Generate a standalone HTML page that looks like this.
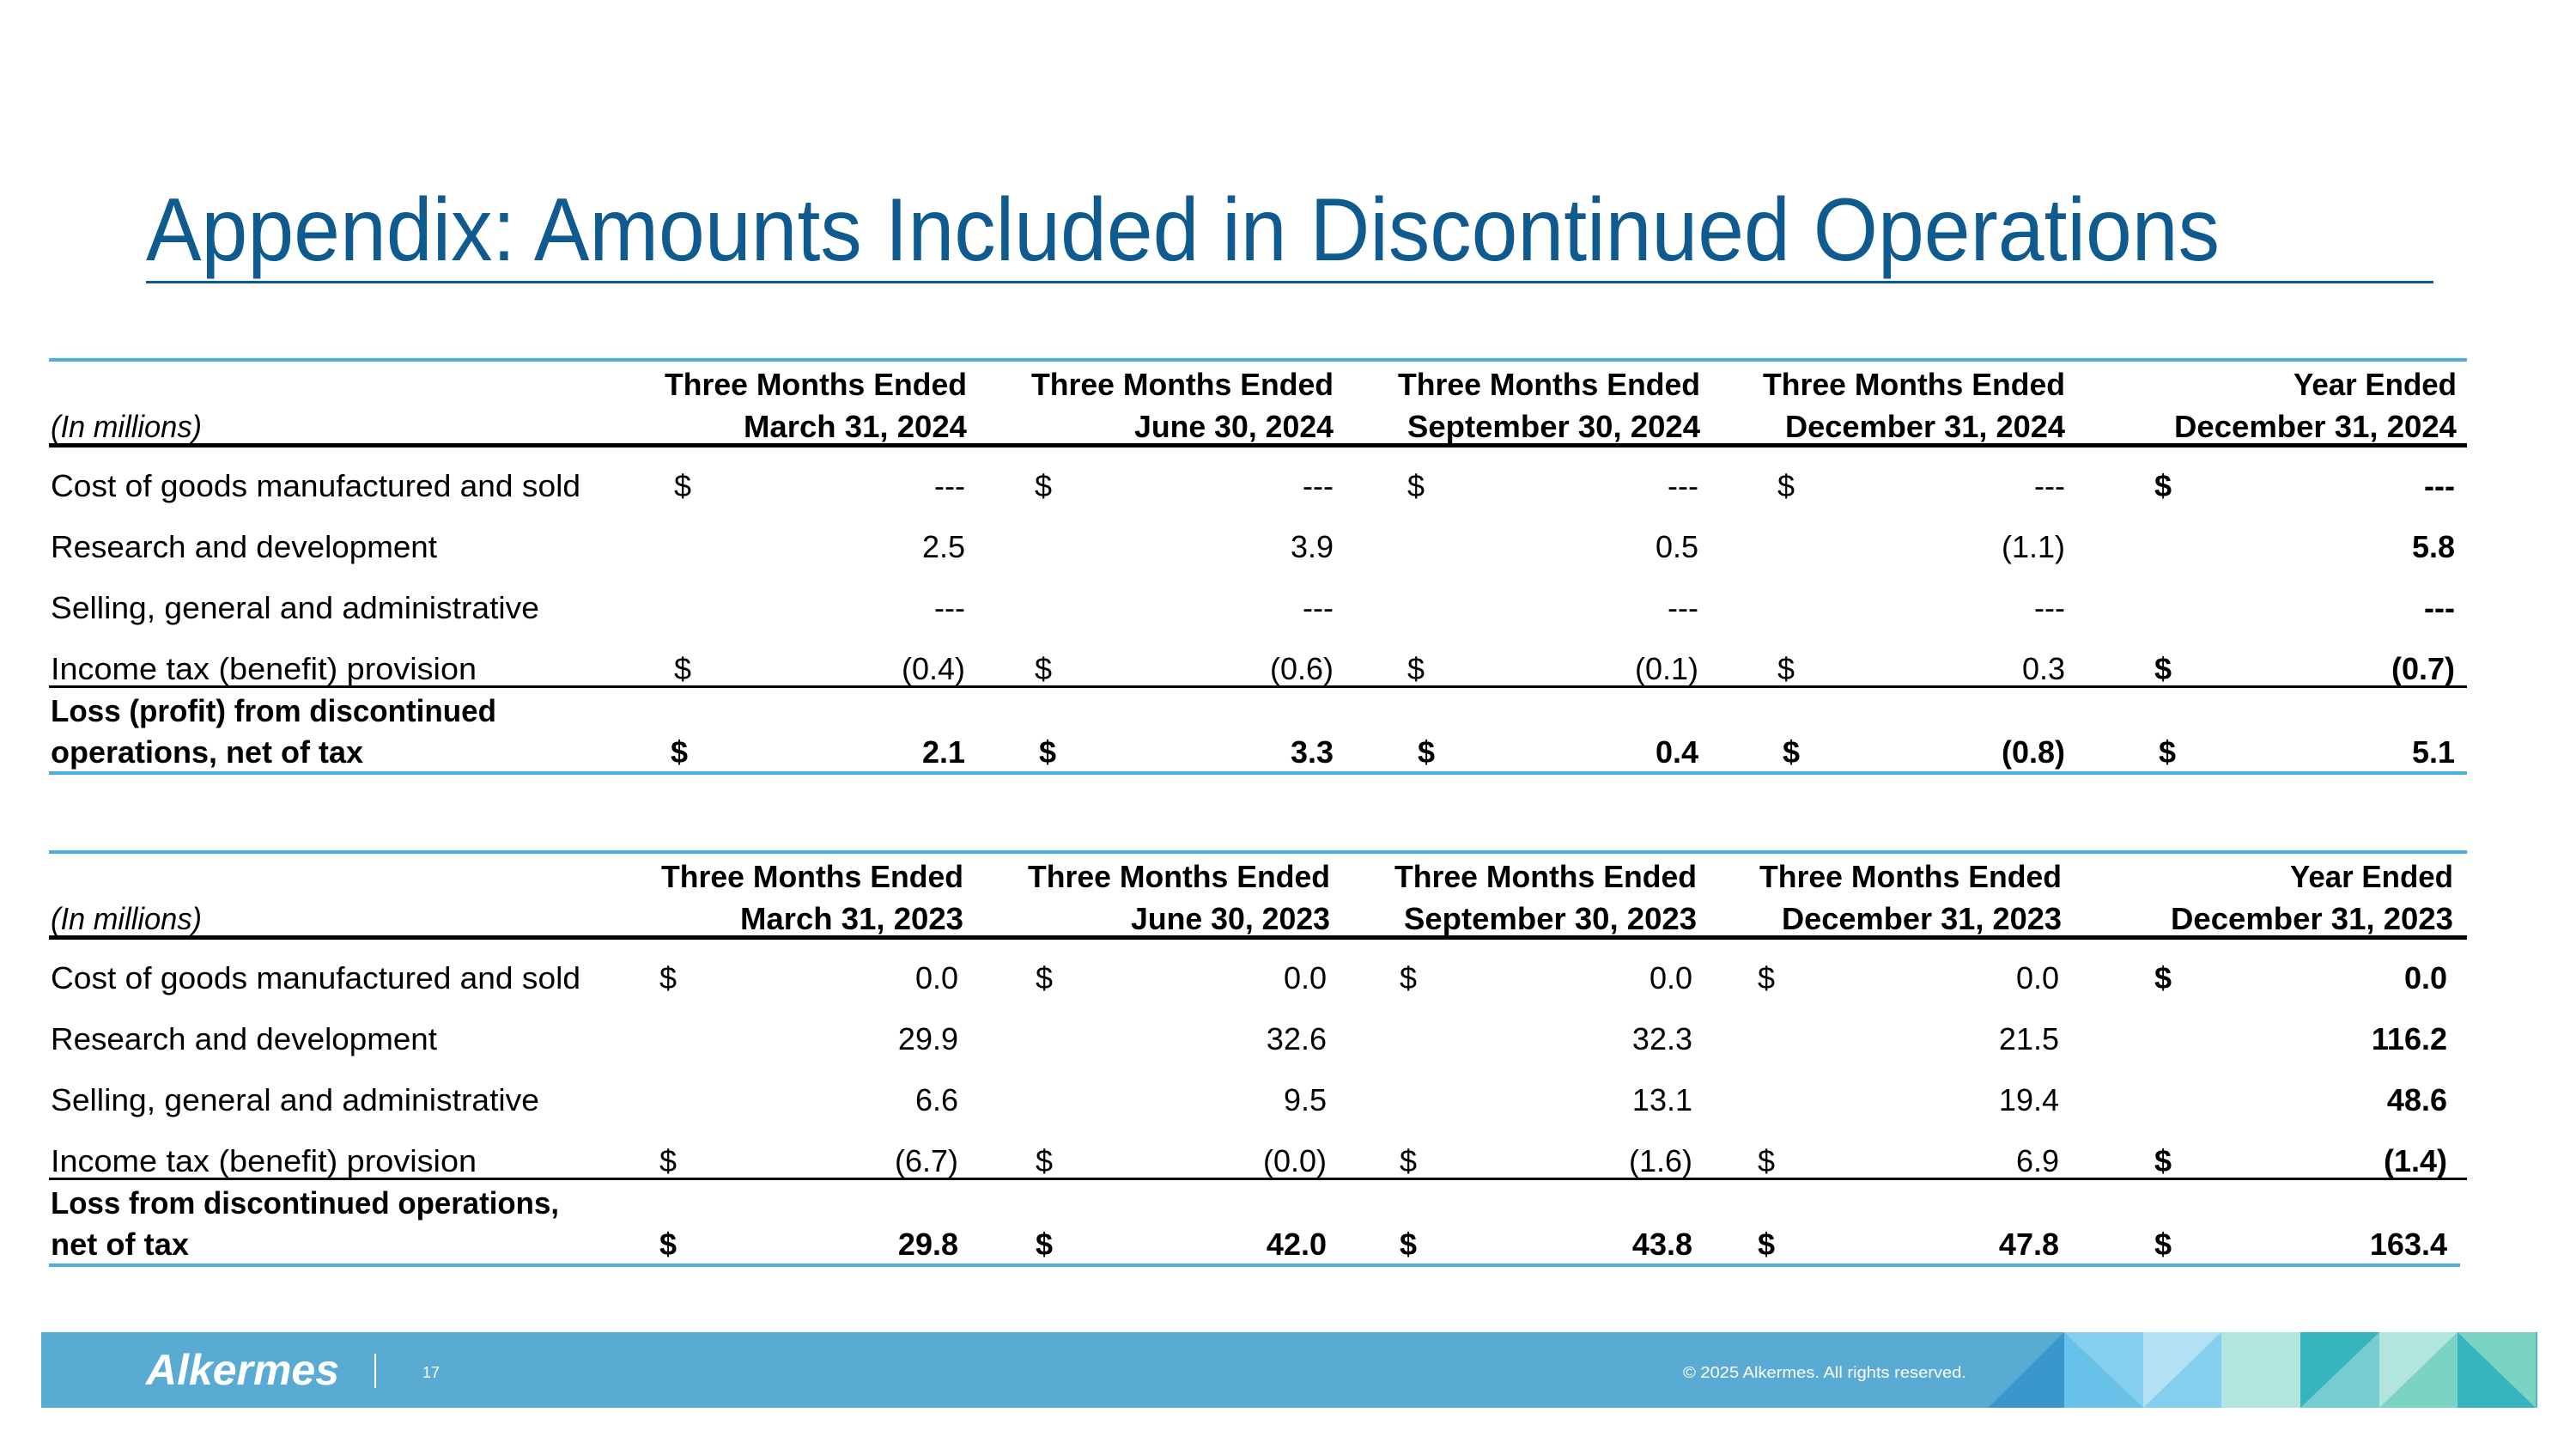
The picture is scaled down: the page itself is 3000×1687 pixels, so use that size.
<!DOCTYPE html>
<html><head><meta charset="utf-8"><style>
html,body{margin:0;padding:0;background:#fff}
svg{display:block}
text{font-family:"Liberation Sans",sans-serif}
</style></head><body>
<svg id="s" width="3000" height="1687" viewBox="0 0 3000 1687" xmlns="http://www.w3.org/2000/svg">
<text x="170" y="303" font-size="104" fill="#0f5a8e" textLength="2415" lengthAdjust="spacingAndGlyphs">Appendix: Amounts Included in Discontinued Operations</text>
<rect x="170" y="327" width="2664" height="3" fill="#0f5a8e"/>
<g id="t1"></g>
<g id="t2"></g>
<g>
<rect x="48" y="1551" width="2907" height="88" fill="#5aabd3"/>
<text x="170" y="1612" font-size="50" font-weight="bold" font-style="italic" fill="#fff" textLength="225" lengthAdjust="spacingAndGlyphs">Alkermes</text>
<rect x="436" y="1576" width="2" height="40" fill="#fff"/>
<text x="492" y="1604" font-size="18" fill="#fff">17</text>
<text x="1960" y="1604" font-size="18" fill="#fff" textLength="330" lengthAdjust="spacingAndGlyphs">© 2025 Alkermes. All rights reserved.</text>
<g>
<polygon points="2315,1639 2404,1551 2404,1639" fill="#3997cb"/>
<rect x="2404" y="1551" width="92" height="88" fill="#84cfee"/>
<polygon points="2404,1551 2496,1639 2404,1639" fill="#67c1e9"/>
<rect x="2496" y="1551" width="91" height="88" fill="#b3e0f2"/>
<polygon points="2496,1639 2587,1551 2587,1639" fill="#84cfee"/>
<rect x="2587" y="1551" width="92" height="88" fill="#b2e5de"/>
<rect x="2679" y="1551" width="92" height="88" fill="#76ccd0"/>
<polygon points="2679,1551 2771,1551 2679,1639" fill="#36b5be"/>
<rect x="2771" y="1551" width="91" height="88" fill="#b2e5de"/>
<polygon points="2771,1639 2862,1551 2862,1639" fill="#7bd4c3"/>
<rect x="2862" y="1551" width="91" height="88" fill="#7bd4c3"/>
<polygon points="2862,1551 2953,1639 2862,1639" fill="#36b5be"/>
</g>
</g>
</svg>
<script>
const NS='http://www.w3.org/2000/svg';
const headers2024=['March 31, 2024','June 30, 2024','September 30, 2024','December 31, 2024','December 31, 2024'];
const headers2023=['March 31, 2023','June 30, 2023','September 30, 2023','December 31, 2023','December 31, 2023'];
const labels2024=['Cost of goods manufactured and sold','Research and development','Selling, general and administrative','Income tax (benefit) provision'];
const totalLabel2024=['Loss (profit) from discontinued','operations, net of tax'];
const totalLabel2023=['Loss from discontinued operations,','net of tax'];
const cogs2024=['---','---','---','---','---'];
const rd2024=['2.5','3.9','0.5','(1.1)','5.8'];
const sga2024=['---','---','---','---','---'];
const tax2024=['(0.4)','(0.6)','(0.1)','0.3','(0.7)'];
const total2024=['2.1','3.3','0.4','(0.8)','5.1'];
const cogs2023=['0.0','0.0','0.0','0.0','0.0'];
const rd2023=['29.9','32.6','32.3','21.5','116.2'];
const sga2023=['6.6','9.5','13.1','19.4','48.6'];
const tax2023=['(6.7)','(0.0)','(1.6)','6.9','(1.4)'];
const total2023=['29.8','42.0','43.8','47.8','163.4'];

const labelLen={'Cost of goods manufactured and sold':617,'Research and development':450,'Selling, general and administrative':569,'Income tax (benefit) provision':496,'Loss (profit) from discontinued':519,'operations, net of tax':364,'Loss from discontinued operations,':592,'net of tax':161};
const hdrLen={'March':260,'June':232,'September':341,'December':326};

function txt(g,x,y,s,opt){
  const t=document.createElementNS(NS,'text');
  t.setAttribute('x',x);t.setAttribute('y',y);
  t.setAttribute('font-size',opt.size||36);
  t.setAttribute('fill','#000');
  if(opt.bold)t.setAttribute('font-weight','bold');
  if(opt.italic)t.setAttribute('font-style','italic');
  if(opt.anchor)t.setAttribute('text-anchor',opt.anchor);
  if(opt.len){t.setAttribute('textLength',opt.len);t.setAttribute('lengthAdjust','spacingAndGlyphs');}
  t.textContent=s;
  
  
  g.appendChild(t);return t;
}
function rect(g,x,y,w,h,c,name){
  const r=document.createElementNS(NS,'rect');
  r.setAttribute('x',x);r.setAttribute('y',y);r.setAttribute('width',w);r.setAttribute('height',h);r.setAttribute('fill',c);
  
  
  g.appendChild(r);
}
function table(g,dy,headers,rows,totalLbl,total,dollarX,valX,hdrX,totX,endX){
  rect(g,57,417+dy,2816,4,'#4bb0dd','table-top-rule');
  txt(g,59,509+dy,'(In millions)',{italic:true,len:176,name:'units-label'});
  for(let i=0;i<5;i++){
    const yr=i===4;
    txt(g,hdrX[i],460+dy,yr?'Year Ended':'Three Months Ended',{bold:true,anchor:'end',len:yr?190:352,name:'column-header-period'});
    const key=headers[i].split(' ')[0];
    txt(g,hdrX[i],509+dy,headers[i],{bold:true,anchor:'end',len:yr?329:hdrLen[key],name:'column-header-date'});
  }
  rect(g,57,516+dy,2816,5,'#000','header-rule');
  const ys=[578,649,720,791];
  rows.forEach((vals,r)=>{
    txt(g,59,ys[r]+dy,labels2024[r],{len:labelLen[labels2024[r]],name:'row-label'});
    vals.forEach((v,i)=>{
      if(r===0||r===3)txt(g,dollarX[i],ys[r]+dy,'$',{bold:i===4,name:'dollar-sign'});
      txt(g,valX[i],ys[r]+dy,v,{anchor:'end',bold:i===4,name:'cell-value'});
    });
  });
  rect(g,57,798+dy,2816,3,'#000','subtotal-rule');
  txt(g,59,840+dy,totalLbl[0],{bold:true,len:labelLen[totalLbl[0]],name:'total-label'});
  txt(g,59,888+dy,totalLbl[1],{bold:true,len:labelLen[totalLbl[1]],name:'total-label'});
  total.forEach((v,i)=>{
    txt(g,totX[i],888+dy,'$',{bold:true,name:'dollar-sign'});
    txt(g,valX[i],888+dy,v,{anchor:'end',bold:true,name:'total-value'});
  });
  rect(g,57,898+dy,endX-57,4,'#4bb0dd','table-bottom-rule');
}
table(document.getElementById('t1'),0,headers2024,[cogs2024,rd2024,sga2024,tax2024],totalLabel2024,total2024,
  [785,1205,1639,2070,2509],[1124,1553,1978,2405,2859],[1126,1553,1980,2405,2861],[781,1210,1651,2076,2514],2873);
table(document.getElementById('t2'),573,headers2023,[cogs2023,rd2023,sga2023,tax2023],totalLabel2023,total2023,
  [768,1206,1630,2047,2509],[1116,1545,1971,2398,2850],[1122,1549,1976,2401,2857],[768,1206,1630,2047,2509],2865);
</script>
</body></html>
